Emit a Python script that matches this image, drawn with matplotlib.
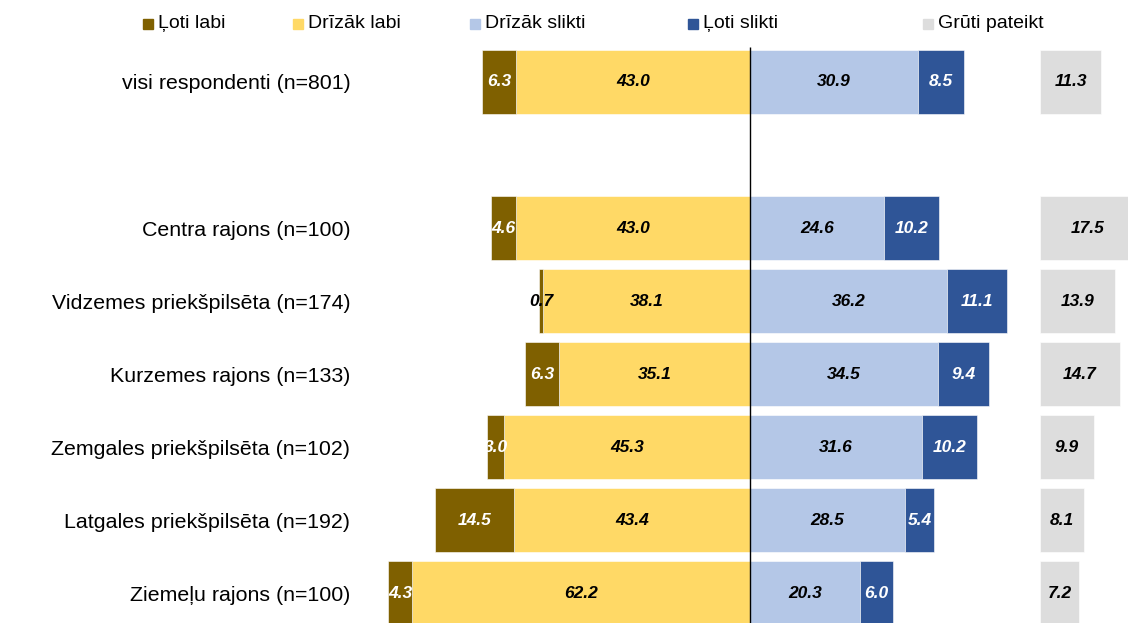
import numpy as np
import matplotlib.pyplot as plt
from matplotlib.patches import Rectangle

plt.rcParams['font.family'] = ['Liberation Sans', 'DejaVu Sans']

# data
categories = ['visi respondenti (n=801)', 'Centra rajons (n=100)',
              'Vidzemes priekšpilsēta (n=174)', 'Kurzemes rajons (n=133)',
              'Zemgales priekšpilsēta (n=102)', 'Latgales priekšpilsēta (n=192)',
              'Ziemeļu rajons (n=100)']
loti_labi = [6.3, 4.6, 0.7, 6.3, 3.0, 14.5, 4.3]
drizak_labi = [43.0, 43.0, 38.1, 35.1, 45.3, 43.4, 62.2]
drizak_slikti = [30.9, 24.6, 36.2, 34.5, 31.6, 28.5, 20.3]
loti_slikti = [8.5, 10.2, 11.1, 9.4, 10.2, 5.4, 6.0]
gruti = [11.3, 17.5, 13.9, 14.7, 9.9, 8.1, 7.2]
legend_labels = ['Ļoti labi', 'Drīzāk labi', 'Drīzāk slikti', 'Ļoti slikti', 'Grūti pateikt']

C_LL = '#7F6000'
C_DL = '#FFD966'
C_DS = '#B4C7E7'
C_LS = '#2F5597'
C_GP = '#DDDDDD'

W, H = 1128, 623
fig = plt.figure(figsize=(W / 100, H / 100), dpi=100)
ax = fig.add_axes([360 / W, 0, 1 - 360 / W, 1 - 40 / H])

ypos = np.array([7, 5, 4, 3, 2, 1, 0])
h = 0.88
gap_start = 53.3

ll = np.array(loti_labi)
dl = np.array(drizak_labi)
ds = np.array(drizak_slikti)
ls = np.array(loti_slikti)
gp = np.array(gruti)

kw = dict(height=h, edgecolor='white', linewidth=0.4)
ax.barh(ypos, -dl, color=C_DL, **kw)
ax.barh(ypos, -ll, left=-dl, color=C_LL, **kw)
ax.barh(ypos, ds, color=C_DS, **kw)
ax.barh(ypos, ls, left=ds, color=C_LS, **kw)
ax.barh(ypos, gp, left=gap_start, color=C_GP, **kw)

tkw = dict(ha='center', va='center', fontsize=12.5, fontweight='bold', fontstyle='italic')
for i, y in enumerate(ypos):
    # very thin segments get a dark label (it sits mostly on white)
    ax.text(-dl[i] - ll[i] / 2, y, f'{ll[i]:.1f}',
            color='white' if ll[i] >= 1 else 'black', **tkw)
    ax.text(-dl[i] / 2, y, f'{dl[i]:.1f}', color='black', **tkw)
    ax.text(ds[i] / 2, y, f'{ds[i]:.1f}', color='black', **tkw)
    ax.text(ds[i] + ls[i] / 2, y, f'{ls[i]:.1f}', color='white', **tkw)
    ax.text(gap_start + gp[i] / 2, y, f'{gp[i]:.1f}', color='black', **tkw)

ax.vlines(0, -1, 7.48, color='black', linewidth=1)

ax.set_xlim(-71.7, 69.5)
ax.set_ylim(-0.41, 7.575)
ax.set_yticks(ypos)
ax.set_yticklabels(categories, fontsize=15.4)
ax.tick_params(axis='y', length=0, pad=7)
ax.set_xticks([])
for s in ax.spines.values():
    s.set_visible(False)

# legend
leg_x = [143, 293, 470, 688, 923]
for x, lab, c in zip(leg_x, legend_labels, [C_LL, C_DL, C_DS, C_LS, C_GP]):
    fig.patches.append(Rectangle((x / W, 1 - 29 / H), 10 / W, 10 / H,
                                 transform=fig.transFigure, color=c))
    fig.text((x + 15) / W, 1 - 24 / H, lab, fontsize=14, va='center', ha='left')

fig.savefig('out.png', dpi=100)
